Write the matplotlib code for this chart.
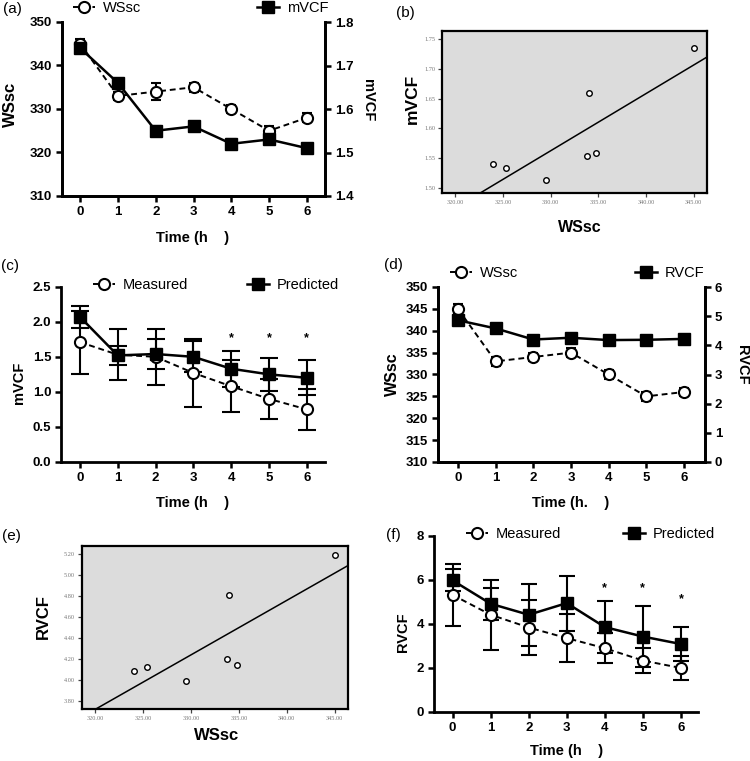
import numpy as np
import matplotlib.pyplot as plt
from matplotlib.ticker import FormatStrFormatter

plt.rcParams['font.family'] = ['Liberation Sans', 'DejaVu Sans']

W, H = 750, 761

# === Data ===
hours = [0, 1, 2, 3, 4, 5, 6]

# (a) WSsc and mVCF over time
a_wssc = [345, 333, 334, 335, 330, 325, 328]
a_wssc_err = [1, 1, 2, 1, 1, 1, 1]
a_mvcf = [1.74, 1.66, 1.55, 1.56, 1.52, 1.53, 1.51]
a_mvcf_err = [0.01, 0.01, 0.01, 0.01, 0.01, 0.01, 0.01]

# (b) / (e) correlation scatter
sc_wssc = [324.0, 325.35, 329.5, 333.8, 334.0, 334.8, 345.0]
b_mvcf = [1.540, 1.533, 1.514, 1.554, 1.660, 1.559, 1.735]
e_rvcf = [4.09, 4.12, 3.99, 4.20, 4.81, 4.14, 5.19]

# (c) mVCF measured vs predicted
c_meas = [1.71, 1.53, 1.50, 1.27, 1.08, 0.90, 0.75]
c_meas_err = [0.45, 0.36, 0.40, 0.49, 0.37, 0.29, 0.29]
c_pred = [2.07, 1.52, 1.54, 1.50, 1.33, 1.25, 1.20]
c_pred_err = [0.16, 0.14, 0.21, 0.22, 0.26, 0.24, 0.25]
c_star_x = [4, 5, 6]
c_star_y = [1.77, 1.77, 1.77]

# (d) WSsc and RVCF over time
d_wssc = [345, 333, 334, 335, 330, 325, 326]
d_wssc_err = [1, 1, 1, 1, 1, 1, 1]
d_rvcf = [4.86, 4.58, 4.20, 4.26, 4.18, 4.19, 4.22]
d_rvcf_err = [0.05, 0.05, 0.05, 0.05, 0.05, 0.05, 0.05]

# (f) RVCF measured vs predicted
f_meas = [5.32, 4.42, 3.84, 3.36, 2.90, 2.34, 2.00]
f_meas_err = [1.40, 1.60, 1.27, 1.08, 0.68, 0.58, 0.53]
f_pred = [5.98, 4.92, 4.42, 4.95, 3.86, 3.43, 3.09]
f_pred_err = [0.50, 0.72, 1.42, 1.25, 1.20, 1.40, 0.76]
f_star_x = [4, 5, 6]
f_star_y = [5.63, 5.63, 5.13]


def px(x, y):
    return x / W, 1 - y / H


def box(l, t, r, b):
    return [l / W, 1 - b / H, (r - l) / W, (b - t) / H]


def prism(ax, right=False):
    ax.spines['top'].set_visible(False)
    if not right:
        ax.spines['right'].set_visible(False)
    for s in ax.spines.values():
        s.set_linewidth(2)
    ax.tick_params(direction='out', width=1.8, length=4, labelsize=9.5, pad=3)
    for lbl in ax.get_xticklabels() + ax.get_yticklabels():
        lbl.set_fontweight('bold')


def circles(ax, y, err, cap=3.5, ms=8):
    return ax.errorbar(hours, y, yerr=err, fmt='--o', color='k', mfc='white',
                       mec='k', mew=1.5, ms=ms, lw=1.4, elinewidth=1.5,
                       capsize=cap, capthick=1.5, dashes=(3, 2))


def squares(ax, y, err, cap=3.5, ms=8):
    return ax.errorbar(hours, y, yerr=err, fmt='-s', color='k', mfc='k',
                       ms=ms, lw=1.8, elinewidth=1.5, capsize=cap, capthick=1.5)


def legend_item(fig, handle, text, x, y):
    leg = fig.legend([handle], [text], loc='center left', bbox_to_anchor=px(x, y),
                     frameon=False, fontsize=10.5, handlelength=1.5,
                     handletextpad=0.55, borderpad=0, borderaxespad=0, numpoints=1)
    return leg


def label(text, x, y, size=11, rot=0, weight='bold'):
    fig.text(*px(x, y), text, ha='center', va='center', fontsize=size,
             rotation=rot, fontweight=weight)


def scatter_panel(ax, x, y, ylim, yticks):
    ax.set_facecolor('#dcdcdc')
    ax.plot(x, y, 'o', ms=4, mfc='white', mec='k', mew=1, zorder=3)
    k, b = np.polyfit(x, y, 1)
    xx = np.array([318.6, 346.4])
    ax.plot(xx, k * xx + b, color='k', lw=1.1)
    ax.set_xlim(318.6, 346.4)
    ax.set_ylim(*ylim)
    ax.set_xticks([320, 325, 330, 335, 340, 345])
    ax.set_yticks(yticks)
    ax.xaxis.set_major_formatter(FormatStrFormatter('%.2f'))
    ax.yaxis.set_major_formatter(FormatStrFormatter('%.2f'))
    for s in ax.spines.values():
        s.set_linewidth(1.6)
    ax.tick_params(direction='out', length=3, width=0.9, labelsize=4.5,
                   labelcolor='#777777', color='#444444', pad=2)
    for lbl in ax.get_xticklabels() + ax.get_yticklabels():
        lbl.set_family('Liberation Serif')


fig = plt.figure(figsize=(7.5, 7.61), dpi=100)

# === (a) ===
ax = fig.add_axes(box(62, 22, 325, 196))
ea = circles(ax, a_wssc, a_wssc_err, cap=3.5)
ax.set_ylim(310, 350)
ax.set_yticks([310, 320, 330, 340, 350])
ax.set_xlim(-0.48, 6.48)
ax.set_xticks(hours)
ax2 = ax.twinx()
sa = squares(ax2, a_mvcf, a_mvcf_err, cap=3.5)
ax2.set_ylim(1.4, 1.8)
ax2.set_yticks([1.4, 1.5, 1.6, 1.7, 1.8])
ax2.yaxis.set_major_formatter(FormatStrFormatter('%.1f'))
prism(ax, right=True)
prism(ax2, right=True)
legend_item(fig, ea[0], 'WSsc', 73, 8)
legend_item(fig, sa[0], 'mVCF', 257, 8)
label('(a)', 12, 9, size=11, weight='normal')
label('WSsc', 10, 104, size=12, rot=90)
label('mVCF', 368, 100, size=10.5, rot=270)
label('Time (h    )', 193, 238, size=10.5)

# === (b) ===
ax = fig.add_axes(box(442, 31, 707, 193))
scatter_panel(ax, sc_wssc, b_mvcf, (1.4916, 1.7634), [1.50, 1.55, 1.60, 1.65, 1.70, 1.75])
label('(b)', 405, 13, size=11, weight='normal')
label('mVCF', 412, 99, size=12.5, rot=90)
label('WSsc', 580, 227, size=11.5)

# === (c) ===
ax = fig.add_axes(box(61, 286.7, 325, 462))
ec = circles(ax, c_meas, c_meas_err, cap=6.5)
sc = squares(ax, c_pred, c_pred_err, cap=6.5)
for xs, ys in zip(c_star_x, c_star_y):
    ax.text(xs, ys, '*', ha='center', va='center', fontsize=9, fontweight='bold')
ax.set_ylim(0, 2.5)
ax.set_yticks([0, 0.5, 1.0, 1.5, 2.0, 2.5])
ax.yaxis.set_major_formatter(FormatStrFormatter('%.1f'))
ax.set_xlim(-0.5, 6.48)
ax.set_xticks(hours)
prism(ax)
legend_item(fig, ec[0], 'Measured', 93, 285)
legend_item(fig, sc[0], 'Predicted', 247, 285)
label('(c)', 10, 266, size=11, weight='normal')
label('mVCF', 19, 383, size=10.5, rot=90)
label('Time (h    )', 193, 503, size=10.5)

# === (d) ===
ax = fig.add_axes(box(438, 287, 705, 462))
ed = circles(ax, d_wssc, d_wssc_err, cap=3.5)
ax.set_ylim(310, 350)
ax.set_yticks(range(310, 351, 5))
ax.set_xlim(-0.53, 6.56)
ax.set_xticks(hours)
ax2 = ax.twinx()
sd = squares(ax2, d_rvcf, d_rvcf_err, cap=3.5)
ax2.set_ylim(0, 6)
ax2.set_yticks(range(0, 7))
prism(ax, right=True)
prism(ax2, right=True)
legend_item(fig, ed[0], 'WSsc', 450, 273)
legend_item(fig, sd[0], 'RVCF', 635, 273)
label('(d)', 393, 265, size=11, weight='normal')
label('WSsc', 392, 374, size=11.5, rot=90)
label('RVCF', 742, 365, size=10.5, rot=270)
label('Time (h.    )', 571, 503, size=10.5)

# === (e) ===
ax = fig.add_axes(box(82, 546, 348, 709))
scatter_panel(ax, sc_wssc, e_rvcf, (3.724, 5.279),
              [3.80, 4.00, 4.20, 4.40, 4.60, 4.80, 5.00, 5.20])
label('(e)', 11, 536, size=11, weight='normal')
label('RVCF', 43, 617, size=12, rot=90)
label('WSsc', 217, 736, size=12)

# === (f) ===
ax = fig.add_axes(box(434, 536, 698, 712))
ef = circles(ax, f_meas, f_meas_err, cap=6)
sf = squares(ax, f_pred, f_pred_err, cap=6, ms=9)
for xs, ys in zip(f_star_x, f_star_y):
    ax.text(xs, ys, '*', ha='center', va='center', fontsize=9, fontweight='bold')
ax.set_ylim(0, 8)
ax.set_yticks([0, 2, 4, 6, 8])
ax.set_xlim(-0.49, 6.45)
ax.set_xticks(hours)
prism(ax)
legend_item(fig, ef[0], 'Measured', 466, 534)
legend_item(fig, sf[0], 'Predicted', 623, 534)
label('(f)', 393, 535, size=11, weight='normal')
label('RVCF', 403, 632, size=10.5, rot=90)
label('Time (h    )', 567, 751, size=10.5)

fig.savefig('out.png', dpi=100)
